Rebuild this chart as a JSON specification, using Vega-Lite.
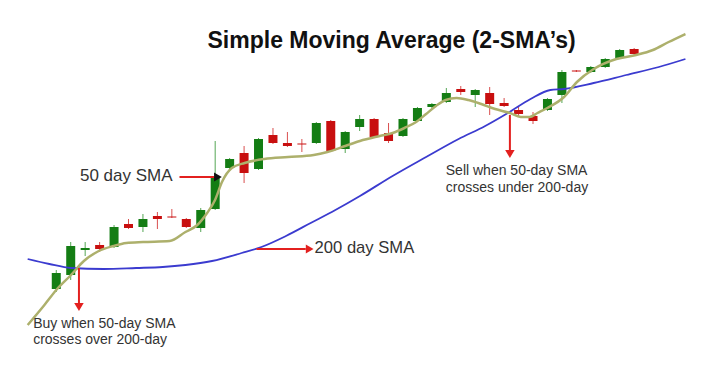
{
  "$schema": "https://vega.github.io/schema/vega-lite/v6.json",
  "width": 720,
  "height": 366,
  "autosize": {"type": "fit", "contains": "padding"},
  "padding": 0,
  "background": "white",
  "config": {"view": {"stroke": null}},
  "datasets": {
    "candles": [
      {"day":1,"open":77,"close":93,"high":96,"low":74},
      {"day":2,"open":91,"close":120,"high":124,"low":86},
      {"day":3,"open":116,"close":118,"high":124,"low":110},
      {"day":4,"open":121,"close":117,"high":124,"low":114},
      {"day":5,"open":119,"close":139,"high":141,"low":118},
      {"day":6,"open":142,"close":138,"high":147,"low":137},
      {"day":7,"open":139,"close":147,"high":152,"low":134},
      {"day":8,"open":150,"close":147,"high":154,"low":137},
      {"day":9,"open":149.5,"close":148.5,"high":157,"low":148},
      {"day":10,"open":147,"close":139,"high":148,"low":138},
      {"day":11,"open":138,"close":156,"high":158,"low":134},
      {"day":12,"open":157,"close":189,"high":225,"low":156},
      {"day":13,"open":198,"close":207,"high":208,"low":195},
      {"day":14,"open":213,"close":193,"high":220,"low":183},
      {"day":15,"open":197,"close":227,"high":228,"low":196},
      {"day":16,"open":231,"close":223,"high":238,"low":222},
      {"day":17,"open":223,"close":220,"high":234,"low":219},
      {"day":18,"open":222.5,"close":221.5,"high":227,"low":214},
      {"day":19,"open":223,"close":243,"high":244,"low":222},
      {"day":20,"open":245,"close":215,"high":246,"low":214},
      {"day":21,"open":217,"close":234,"high":235,"low":213},
      {"day":22,"open":239,"close":247,"high":251,"low":235},
      {"day":23,"open":247,"close":229,"high":248,"low":228},
      {"day":24,"open":233,"close":225,"high":243,"low":223},
      {"day":25,"open":230,"close":247,"high":248,"low":229},
      {"day":26,"open":245,"close":258,"high":259,"low":244},
      {"day":27,"open":259,"close":262,"high":263,"low":256},
      {"day":28,"open":264,"close":273,"high":278,"low":263},
      {"day":29,"open":277,"close":274,"high":280,"low":271},
      {"day":30,"open":271,"close":276,"high":277,"low":259},
      {"day":31,"open":273,"close":262,"high":279,"low":251},
      {"day":32,"open":263,"close":260,"high":268,"low":259},
      {"day":33,"open":256,"close":252,"high":260,"low":250},
      {"day":34,"open":250,"close":245,"high":254,"low":242},
      {"day":35,"open":256,"close":267,"high":268,"low":255},
      {"day":36,"open":271,"close":294,"high":296,"low":263},
      {"day":37,"open":295.5,"close":294.5,"high":296,"low":294},
      {"day":38,"open":294,"close":299,"high":300,"low":293},
      {"day":39,"open":299,"close":307,"high":308,"low":298},
      {"day":40,"open":308,"close":316,"high":317,"low":307},
      {"day":41,"open":317,"close":312,"high":318,"low":311}
    ],
    "sma50": [
      {"day":-0.98,"price":41},{"day":0.18,"price":61},{"day":1.0,"price":76},{"day":2.02,"price":91},
      {"day":2.91,"price":105},{"day":3.94,"price":115},{"day":4.96,"price":120},{"day":5.85,"price":123},
      {"day":7.01,"price":124},{"day":8.85,"price":125},{"day":9.94,"price":134},{"day":10.76,"price":141},
      {"day":11.44,"price":153},{"day":11.99,"price":166},{"day":12.47,"price":184},{"day":13.15,"price":198},
      {"day":14.04,"price":203},{"day":15.40,"price":207},{"day":17.04,"price":209},{"day":18.82,"price":211},
      {"day":19.77,"price":214},{"day":21.00,"price":220},{"day":22.02,"price":225},{"day":23.39,"price":230},
      {"day":24.28,"price":233},{"day":25.10,"price":238},{"day":25.91,"price":244},{"day":26.60,"price":252},
      {"day":27.28,"price":260},{"day":27.96,"price":266},{"day":28.71,"price":268},{"day":29.53,"price":266},
      {"day":30.42,"price":262},{"day":31.38,"price":257},{"day":32.40,"price":253},{"day":33.15,"price":249},
      {"day":33.76,"price":249},{"day":34.31,"price":253},{"day":34.99,"price":258},{"day":36.15,"price":269},
      {"day":37.04,"price":284},{"day":38.20,"price":297},{"day":39.77,"price":307},{"day":41.14,"price":311},
      {"day":42.30,"price":316},{"day":43.39,"price":324},{"day":44.55,"price":332}
    ],
    "sma200": [
      {"day":-0.98,"price":107},{"day":0.52,"price":102},{"day":2.02,"price":98},{"day":4.28,"price":97},
      {"day":6.53,"price":98},{"day":8.37,"price":99},{"day":9.94,"price":101},{"day":11.78,"price":105},
      {"day":13.83,"price":113},{"day":15.20,"price":119},{"day":16.90,"price":130},{"day":18.61,"price":143},
      {"day":20.32,"price":156},{"day":22.02,"price":170},{"day":24.28,"price":190},{"day":26.60,"price":209},
      {"day":28.85,"price":227},{"day":30.69,"price":240},{"day":32.26,"price":253},{"day":33.83,"price":267},
      {"day":35.20,"price":276},{"day":36.15,"price":277},{"day":38.20,"price":283},{"day":40.45,"price":291},
      {"day":42.71,"price":299},{"day":44.55,"price":307}
    ]
  },
  "layer": [
    {
      "data": {"name": "candles"},
      "mark": {"type": "rule", "strokeWidth": 1, "opacity": 0.75},
      "encoding": {
        "x": {"field": "day", "type": "quantitative", "scale": {"domain": [-2.549, 46.597], "nice": false, "zero": false}, "axis": null},
        "y": {"field": "low", "type": "quantitative", "scale": {"domain": [0, 366], "nice": false, "zero": false}, "axis": null},
        "y2": {"field": "high"},
        "color": {"condition": {"test": "datum.close >= datum.open", "value": "#1c8a1c"}, "value": "#cc1414"}
      }
    },
    {
      "data": {"name": "candles"},
      "mark": {"type": "bar", "size": 9},
      "encoding": {
        "x": {"field": "day", "type": "quantitative", "axis": null},
        "y": {"field": "open", "type": "quantitative", "axis": null},
        "y2": {"field": "close"},
        "color": {"condition": {"test": "datum.close >= datum.open", "value": "#147d14"}, "value": "#c80f0f"}
      }
    },
    {
      "data": {"name": "sma200"},
      "mark": {"type": "line", "color": "#3b3bcf", "strokeWidth": 1.8, "interpolate": "monotone"},
      "encoding": {
        "x": {"field": "day", "type": "quantitative", "axis": null},
        "y": {"field": "price", "type": "quantitative", "axis": null}
      }
    },
    {
      "data": {"name": "sma50"},
      "mark": {"type": "line", "color": "#adb06c", "strokeWidth": 2.5, "interpolate": "monotone"},
      "encoding": {
        "x": {"field": "day", "type": "quantitative", "axis": null},
        "y": {"field": "price", "type": "quantitative", "axis": null}
      }
    },
    {
      "data": {"values": [
        {"x": 9.53, "x2": 11.92, "y": 189, "y2": 189},
        {"x": 14.86, "x2": 18.27, "y": 117, "y2": 117},
        {"x": 2.57, "x2": 2.57, "y": 98, "y2": 63},
        {"x": 32.40, "x2": 32.40, "y": 251, "y2": 216}
      ]},
      "mark": {"type": "rule", "color": "#e3201f", "strokeWidth": 2},
      "encoding": {
        "x": {"field": "x", "type": "quantitative", "axis": null},
        "x2": {"field": "x2"},
        "y": {"field": "y", "type": "quantitative", "axis": null},
        "y2": {"field": "y2"}
      }
    },
    {
      "data": {"values": [{"x": 12.19, "y": 189}]},
      "mark": {"type": "point", "shape": "triangle-right", "filled": true, "size": 80, "color": "#111111", "opacity": 1},
      "encoding": {
        "x": {"field": "x", "type": "quantitative", "axis": null},
        "y": {"field": "y", "type": "quantitative", "axis": null}
      }
    },
    {
      "data": {"values": [{"x": 18.54, "y": 117}]},
      "mark": {"type": "point", "shape": "triangle-right", "filled": true, "size": 80, "color": "#e3201f", "opacity": 1},
      "encoding": {
        "x": {"field": "x", "type": "quantitative", "axis": null},
        "y": {"field": "y", "type": "quantitative", "axis": null}
      }
    },
    {
      "data": {"values": [{"x": 2.57, "y": 59}, {"x": 32.40, "y": 212}]},
      "mark": {"type": "point", "shape": "triangle-down", "filled": true, "size": 90, "color": "#e3201f", "opacity": 1},
      "encoding": {
        "x": {"field": "x", "type": "quantitative", "axis": null},
        "y": {"field": "y", "type": "quantitative", "axis": null}
      }
    },
    {
      "data": {"values": [
        {"x": 9.05, "y": 190, "label": "50 day SMA"}
      ]},
      "mark": {"type": "text", "align": "right", "baseline": "middle", "font": "Liberation Sans", "fontSize": 17, "color": "#333333"},
      "encoding": {
        "x": {"field": "x", "type": "quantitative", "axis": null},
        "y": {"field": "y", "type": "quantitative", "axis": null},
        "text": {"field": "label"}
      }
    },
    {
      "data": {"values": [
        {"x": 18.88, "y": 118, "label": "200 day SMA"}
      ]},
      "mark": {"type": "text", "align": "left", "baseline": "middle", "font": "Liberation Sans", "fontSize": 16.6, "color": "#333333"},
      "encoding": {
        "x": {"field": "x", "type": "quantitative", "axis": null},
        "y": {"field": "y", "type": "quantitative", "axis": null},
        "text": {"field": "label"}
      }
    },
    {
      "data": {"values": [
        {"x": -0.6, "y": 42, "label": "Buy when 50-day SMA"},
        {"x": -0.6, "y": 26, "label": "crosses over 200-day"},
        {"x": 27.96, "y": 195, "label": "Sell when 50-day SMA"},
        {"x": 27.96, "y": 178, "label": "crosses under 200-day"}
      ]},
      "mark": {"type": "text", "align": "left", "baseline": "middle", "font": "Liberation Sans", "fontSize": 14, "color": "#333333"},
      "encoding": {
        "x": {"field": "x", "type": "quantitative", "axis": null},
        "y": {"field": "y", "type": "quantitative", "axis": null},
        "text": {"field": "label"}
      }
    },
    {
      "data": {"values": [
        {"x": 24.21, "y": 325, "label": "Simple Moving Average (2-SMA’s)"}
      ]},
      "mark": {"type": "text", "align": "center", "baseline": "middle", "font": "Liberation Sans", "fontSize": 23, "fontWeight": "bold", "color": "#111111"},
      "encoding": {
        "x": {"field": "x", "type": "quantitative", "axis": null},
        "y": {"field": "y", "type": "quantitative", "axis": null},
        "text": {"field": "label"}
      }
    }
  ]
}
